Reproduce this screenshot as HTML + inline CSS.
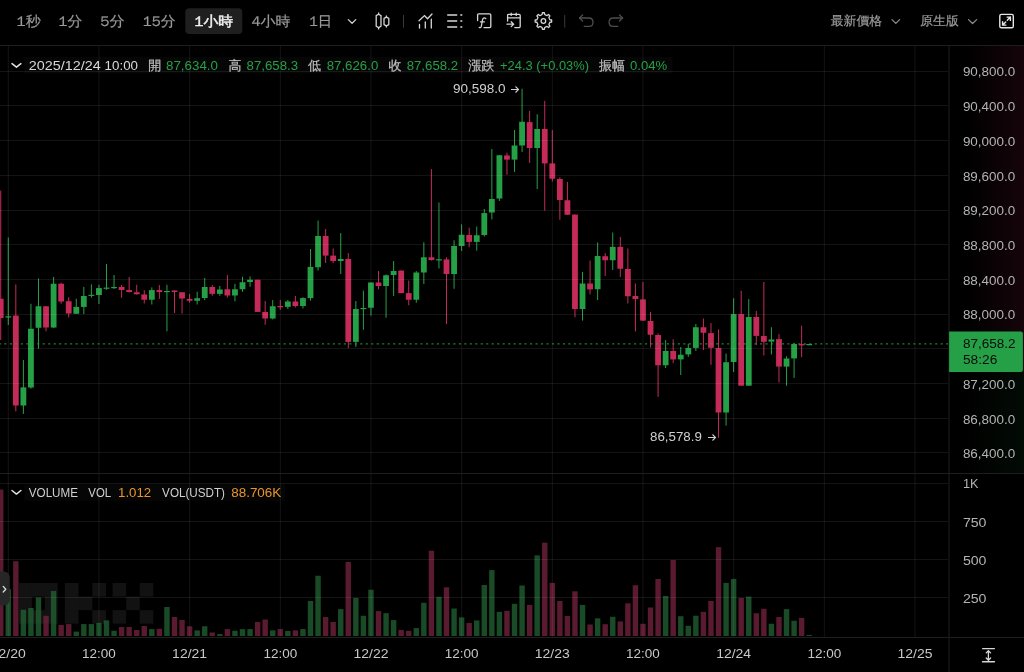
<!DOCTYPE html>
<html><head><meta charset="utf-8">
<style>
html,body{margin:0;padding:0;background:#000;width:1024px;height:672px;overflow:hidden}
svg{display:block;position:absolute;left:0;top:0;will-change:transform}
.t{font-family:"Liberation Sans","WenQuanYi Zen Hei",sans-serif}
.w{font-family:"WenQuanYi Zen Hei","Liberation Sans",sans-serif}
</style></head><body>
<svg width="1024" height="672" viewBox="0 0 1024 672">
<defs>
<linearGradient id="gr" x1="0" y1="0" x2="1" y2="0"><stop offset="0" stop-color="#c42b59" stop-opacity="0"/><stop offset="1" stop-color="#c42b59" stop-opacity="0.11"/></linearGradient>
<linearGradient id="gg" x1="0" y1="0" x2="1" y2="0"><stop offset="0" stop-color="#26a047" stop-opacity="0"/><stop offset="1" stop-color="#26a047" stop-opacity="0.07"/></linearGradient>
</defs>
<rect width="1024" height="672" fill="#000"/>
<g fill="#ffffff" fill-opacity="0.07">
<rect x="19" y="583" width="12.9" height="13.57"/>
<rect x="19" y="596.57" width="12.9" height="13.57"/>
<rect x="19" y="610.14" width="12.9" height="13.57"/>
<rect x="31.9" y="583" width="12.9" height="13.57"/>
<rect x="31.9" y="610.14" width="12.9" height="13.57"/>
<rect x="44.8" y="583" width="12.9" height="13.57"/>
<rect x="44.8" y="596.57" width="12.9" height="13.57"/>
<rect x="44.8" y="610.14" width="12.9" height="13.57"/>
<rect x="64.8" y="583" width="13.75" height="13.57"/>
<rect x="64.8" y="596.57" width="13.75" height="13.57"/>
<rect x="64.8" y="610.14" width="13.75" height="13.57"/>
<rect x="78.55" y="596.57" width="13.75" height="13.57"/>
<rect x="92.3" y="583" width="13.75" height="13.57"/>
<rect x="92.3" y="610.14" width="13.75" height="13.57"/>
<rect x="112.6" y="583" width="13.57" height="13.57"/>
<rect x="112.6" y="610.14" width="13.57" height="13.57"/>
<rect x="126.17" y="596.57" width="13.57" height="13.57"/>
<rect x="139.74" y="583" width="13.57" height="13.57"/>
<rect x="139.74" y="610.14" width="13.57" height="13.57"/>
</g>
<rect x="-1.99" y="489.5" width="5.4" height="146.5" fill="#78233f" fill-opacity="0.75"/>
<rect x="5.56" y="589.1" width="5.4" height="46.9" fill="#236434" fill-opacity="0.75"/>
<rect x="13.12" y="561.25" width="5.4" height="74.75" fill="#78233f" fill-opacity="0.75"/>
<rect x="20.68" y="609.75" width="5.4" height="26.25" fill="#236434" fill-opacity="0.75"/>
<rect x="28.23" y="607.9" width="5.4" height="28.1" fill="#236434" fill-opacity="0.75"/>
<rect x="35.79" y="597.5" width="5.4" height="38.5" fill="#236434" fill-opacity="0.75"/>
<rect x="43.34" y="615.75" width="5.4" height="20.25" fill="#78233f" fill-opacity="0.75"/>
<rect x="50.9" y="591" width="5.4" height="45" fill="#236434" fill-opacity="0.75"/>
<rect x="58.46" y="625" width="5.4" height="11" fill="#78233f" fill-opacity="0.75"/>
<rect x="66.01" y="624.1" width="5.4" height="11.9" fill="#78233f" fill-opacity="0.75"/>
<rect x="73.57" y="631.6" width="5.4" height="4.4" fill="#236434" fill-opacity="0.75"/>
<rect x="81.12" y="624.1" width="5.4" height="11.9" fill="#236434" fill-opacity="0.75"/>
<rect x="88.68" y="624.1" width="5.4" height="11.9" fill="#236434" fill-opacity="0.75"/>
<rect x="96.24" y="622.9" width="5.4" height="13.1" fill="#236434" fill-opacity="0.75"/>
<rect x="103.79" y="620.4" width="5.4" height="15.6" fill="#236434" fill-opacity="0.75"/>
<rect x="111.35" y="630.75" width="5.4" height="5.25" fill="#236434" fill-opacity="0.75"/>
<rect x="118.9" y="627" width="5.4" height="9" fill="#78233f" fill-opacity="0.75"/>
<rect x="126.46" y="627" width="5.4" height="9" fill="#78233f" fill-opacity="0.75"/>
<rect x="134.02" y="630" width="5.4" height="6" fill="#78233f" fill-opacity="0.75"/>
<rect x="141.57" y="626" width="5.4" height="10" fill="#78233f" fill-opacity="0.75"/>
<rect x="149.13" y="629.1" width="5.4" height="6.9" fill="#236434" fill-opacity="0.75"/>
<rect x="156.68" y="628.75" width="5.4" height="7.25" fill="#78233f" fill-opacity="0.75"/>
<rect x="164.24" y="607" width="5.4" height="29" fill="#236434" fill-opacity="0.75"/>
<rect x="171.8" y="617" width="5.4" height="19" fill="#78233f" fill-opacity="0.75"/>
<rect x="179.35" y="620" width="5.4" height="16" fill="#78233f" fill-opacity="0.75"/>
<rect x="186.91" y="626.25" width="5.4" height="9.75" fill="#78233f" fill-opacity="0.75"/>
<rect x="194.46" y="630.4" width="5.4" height="5.6" fill="#236434" fill-opacity="0.75"/>
<rect x="202.02" y="626.25" width="5.4" height="9.75" fill="#236434" fill-opacity="0.75"/>
<rect x="209.58" y="632.5" width="5.4" height="3.5" fill="#78233f" fill-opacity="0.75"/>
<rect x="217.13" y="634.1" width="5.4" height="1.9" fill="#236434" fill-opacity="0.75"/>
<rect x="224.69" y="629.1" width="5.4" height="6.9" fill="#78233f" fill-opacity="0.75"/>
<rect x="232.24" y="630.75" width="5.4" height="5.25" fill="#236434" fill-opacity="0.75"/>
<rect x="239.8" y="629.1" width="5.4" height="6.9" fill="#236434" fill-opacity="0.75"/>
<rect x="247.36" y="629.1" width="5.4" height="6.9" fill="#236434" fill-opacity="0.75"/>
<rect x="254.91" y="622" width="5.4" height="14" fill="#78233f" fill-opacity="0.75"/>
<rect x="262.47" y="619.5" width="5.4" height="16.5" fill="#78233f" fill-opacity="0.75"/>
<rect x="270.02" y="630.4" width="5.4" height="5.6" fill="#236434" fill-opacity="0.75"/>
<rect x="277.58" y="629.1" width="5.4" height="6.9" fill="#78233f" fill-opacity="0.75"/>
<rect x="285.14" y="631" width="5.4" height="5" fill="#236434" fill-opacity="0.75"/>
<rect x="292.69" y="630.4" width="5.4" height="5.6" fill="#78233f" fill-opacity="0.75"/>
<rect x="300.25" y="629.1" width="5.4" height="6.9" fill="#236434" fill-opacity="0.75"/>
<rect x="307.8" y="601" width="5.4" height="35" fill="#236434" fill-opacity="0.75"/>
<rect x="315.36" y="575.75" width="5.4" height="60.25" fill="#236434" fill-opacity="0.75"/>
<rect x="322.92" y="617" width="5.4" height="19" fill="#78233f" fill-opacity="0.75"/>
<rect x="330.47" y="622" width="5.4" height="14" fill="#78233f" fill-opacity="0.75"/>
<rect x="338.03" y="609.1" width="5.4" height="26.9" fill="#236434" fill-opacity="0.75"/>
<rect x="345.58" y="562" width="5.4" height="74" fill="#78233f" fill-opacity="0.75"/>
<rect x="353.14" y="597.9" width="5.4" height="38.1" fill="#236434" fill-opacity="0.75"/>
<rect x="360.7" y="615.75" width="5.4" height="20.25" fill="#236434" fill-opacity="0.75"/>
<rect x="368.25" y="589.7" width="5.4" height="46.3" fill="#236434" fill-opacity="0.75"/>
<rect x="375.81" y="611.1" width="5.4" height="24.9" fill="#78233f" fill-opacity="0.75"/>
<rect x="383.36" y="613.2" width="5.4" height="22.8" fill="#236434" fill-opacity="0.75"/>
<rect x="390.92" y="620.1" width="5.4" height="15.9" fill="#236434" fill-opacity="0.75"/>
<rect x="398.48" y="630" width="5.4" height="6" fill="#78233f" fill-opacity="0.75"/>
<rect x="406.03" y="630.8" width="5.4" height="5.2" fill="#78233f" fill-opacity="0.75"/>
<rect x="413.59" y="628.1" width="5.4" height="7.9" fill="#236434" fill-opacity="0.75"/>
<rect x="421.14" y="602.8" width="5.4" height="33.2" fill="#236434" fill-opacity="0.75"/>
<rect x="428.7" y="550.7" width="5.4" height="85.3" fill="#78233f" fill-opacity="0.75"/>
<rect x="436.26" y="596.8" width="5.4" height="39.2" fill="#236434" fill-opacity="0.75"/>
<rect x="443.81" y="587.3" width="5.4" height="48.7" fill="#78233f" fill-opacity="0.75"/>
<rect x="451.37" y="608.5" width="5.4" height="27.5" fill="#236434" fill-opacity="0.75"/>
<rect x="458.92" y="617.4" width="5.4" height="18.6" fill="#236434" fill-opacity="0.75"/>
<rect x="466.48" y="623" width="5.4" height="13" fill="#78233f" fill-opacity="0.75"/>
<rect x="474.04" y="620.4" width="5.4" height="15.6" fill="#236434" fill-opacity="0.75"/>
<rect x="481.59" y="585" width="5.4" height="51" fill="#236434" fill-opacity="0.75"/>
<rect x="489.15" y="570.1" width="5.4" height="65.9" fill="#236434" fill-opacity="0.75"/>
<rect x="496.7" y="611.85" width="5.4" height="24.15" fill="#236434" fill-opacity="0.75"/>
<rect x="504.26" y="610.8" width="5.4" height="25.2" fill="#78233f" fill-opacity="0.75"/>
<rect x="511.82" y="603.8" width="5.4" height="32.2" fill="#236434" fill-opacity="0.75"/>
<rect x="519.37" y="585.5" width="5.4" height="50.5" fill="#236434" fill-opacity="0.75"/>
<rect x="526.93" y="604.9" width="5.4" height="31.1" fill="#78233f" fill-opacity="0.75"/>
<rect x="534.48" y="555.35" width="5.4" height="80.65" fill="#236434" fill-opacity="0.75"/>
<rect x="542.04" y="542.65" width="5.4" height="93.35" fill="#78233f" fill-opacity="0.75"/>
<rect x="549.6" y="582.9" width="5.4" height="53.1" fill="#78233f" fill-opacity="0.75"/>
<rect x="557.15" y="601" width="5.4" height="35" fill="#78233f" fill-opacity="0.75"/>
<rect x="564.71" y="616" width="5.4" height="20" fill="#78233f" fill-opacity="0.75"/>
<rect x="572.26" y="591.3" width="5.4" height="44.7" fill="#78233f" fill-opacity="0.75"/>
<rect x="579.82" y="604.9" width="5.4" height="31.1" fill="#236434" fill-opacity="0.75"/>
<rect x="587.38" y="624.5" width="5.4" height="11.5" fill="#78233f" fill-opacity="0.75"/>
<rect x="594.93" y="618.35" width="5.4" height="17.65" fill="#236434" fill-opacity="0.75"/>
<rect x="602.49" y="624.2" width="5.4" height="11.8" fill="#78233f" fill-opacity="0.75"/>
<rect x="610.04" y="616.8" width="5.4" height="19.2" fill="#236434" fill-opacity="0.75"/>
<rect x="617.6" y="621.45" width="5.4" height="14.55" fill="#78233f" fill-opacity="0.75"/>
<rect x="625.16" y="603.3" width="5.4" height="32.7" fill="#78233f" fill-opacity="0.75"/>
<rect x="632.71" y="585.2" width="5.4" height="50.8" fill="#78233f" fill-opacity="0.75"/>
<rect x="640.27" y="623.8" width="5.4" height="12.2" fill="#78233f" fill-opacity="0.75"/>
<rect x="647.82" y="607.5" width="5.4" height="28.5" fill="#78233f" fill-opacity="0.75"/>
<rect x="655.38" y="579" width="5.4" height="57" fill="#78233f" fill-opacity="0.75"/>
<rect x="662.94" y="596" width="5.4" height="40" fill="#236434" fill-opacity="0.75"/>
<rect x="670.49" y="560" width="5.4" height="76" fill="#78233f" fill-opacity="0.75"/>
<rect x="678.05" y="616.2" width="5.4" height="19.8" fill="#236434" fill-opacity="0.75"/>
<rect x="685.6" y="625.8" width="5.4" height="10.2" fill="#236434" fill-opacity="0.75"/>
<rect x="693.16" y="615.7" width="5.4" height="20.3" fill="#236434" fill-opacity="0.75"/>
<rect x="700.72" y="611.85" width="5.4" height="24.15" fill="#78233f" fill-opacity="0.75"/>
<rect x="708.27" y="601" width="5.4" height="35" fill="#78233f" fill-opacity="0.75"/>
<rect x="715.83" y="547.15" width="5.4" height="88.85" fill="#78233f" fill-opacity="0.75"/>
<rect x="723.38" y="582.9" width="5.4" height="53.1" fill="#236434" fill-opacity="0.75"/>
<rect x="730.94" y="578.9" width="5.4" height="57.1" fill="#236434" fill-opacity="0.75"/>
<rect x="738.5" y="597.9" width="5.4" height="38.1" fill="#78233f" fill-opacity="0.75"/>
<rect x="746.05" y="596.6" width="5.4" height="39.4" fill="#236434" fill-opacity="0.75"/>
<rect x="753.61" y="613.25" width="5.4" height="22.75" fill="#78233f" fill-opacity="0.75"/>
<rect x="761.16" y="608.75" width="5.4" height="27.25" fill="#78233f" fill-opacity="0.75"/>
<rect x="768.72" y="623.75" width="5.4" height="12.25" fill="#236434" fill-opacity="0.75"/>
<rect x="776.28" y="617" width="5.4" height="19" fill="#78233f" fill-opacity="0.75"/>
<rect x="783.83" y="609.1" width="5.4" height="26.9" fill="#236434" fill-opacity="0.75"/>
<rect x="791.39" y="620.75" width="5.4" height="15.25" fill="#236434" fill-opacity="0.75"/>
<rect x="798.94" y="617.9" width="5.4" height="18.1" fill="#78233f" fill-opacity="0.75"/>
<rect x="806.5" y="635" width="5.4" height="1" fill="#236434" fill-opacity="0.75"/>
<rect x="0.21" y="190.6" width="1" height="149.4" fill="#c42b59"/>
<rect x="-2.19" y="298.75" width="5.8" height="19.25" fill="#c42b59"/>
<rect x="7.76" y="237.5" width="1" height="87.5" fill="#26a047"/>
<rect x="5.36" y="316.3" width="5.8" height="1.2" fill="#26a047"/>
<rect x="15.32" y="284.4" width="1" height="127" fill="#c42b59"/>
<rect x="12.92" y="315.6" width="5.8" height="89.9" fill="#c42b59"/>
<rect x="22.88" y="360" width="1" height="53.9" fill="#26a047"/>
<rect x="20.48" y="387.4" width="5.8" height="18.1" fill="#26a047"/>
<rect x="30.43" y="303.75" width="1" height="85" fill="#26a047"/>
<rect x="28.03" y="328.75" width="5.8" height="58.75" fill="#26a047"/>
<rect x="37.99" y="278.5" width="1" height="70.25" fill="#26a047"/>
<rect x="35.59" y="306.25" width="5.8" height="21.5" fill="#26a047"/>
<rect x="45.54" y="306.25" width="1" height="25" fill="#c42b59"/>
<rect x="43.14" y="306.25" width="5.8" height="21.25" fill="#c42b59"/>
<rect x="53.1" y="276.9" width="1" height="51.1" fill="#26a047"/>
<rect x="50.7" y="283.75" width="5.8" height="43.75" fill="#26a047"/>
<rect x="60.66" y="282.75" width="1" height="21" fill="#c42b59"/>
<rect x="58.26" y="283.75" width="5.8" height="17.75" fill="#c42b59"/>
<rect x="68.21" y="297.25" width="1" height="20.25" fill="#c42b59"/>
<rect x="65.81" y="301.25" width="5.8" height="12.25" fill="#c42b59"/>
<rect x="75.77" y="298.75" width="1" height="15.25" fill="#26a047"/>
<rect x="73.37" y="306.9" width="5.8" height="6.85" fill="#26a047"/>
<rect x="83.32" y="286.9" width="1" height="27.1" fill="#26a047"/>
<rect x="80.92" y="296" width="5.8" height="10.9" fill="#26a047"/>
<rect x="90.88" y="284.4" width="1" height="13.35" fill="#26a047"/>
<rect x="88.48" y="294.75" width="5.8" height="1.2" fill="#26a047"/>
<rect x="98.44" y="284.75" width="1" height="19.25" fill="#26a047"/>
<rect x="96.04" y="288.1" width="5.8" height="6.9" fill="#26a047"/>
<rect x="105.99" y="264" width="1" height="25.75" fill="#26a047"/>
<rect x="103.59" y="287.6" width="5.8" height="1.2" fill="#26a047"/>
<rect x="113.55" y="275" width="1" height="14" fill="#26a047"/>
<rect x="111.15" y="287" width="5.8" height="1.2" fill="#26a047"/>
<rect x="121.1" y="285" width="1" height="12.75" fill="#c42b59"/>
<rect x="118.7" y="286.9" width="5.8" height="3.1" fill="#c42b59"/>
<rect x="128.66" y="277" width="1" height="15.5" fill="#c42b59"/>
<rect x="126.26" y="290.1" width="5.8" height="1.9" fill="#c42b59"/>
<rect x="136.22" y="284.75" width="1" height="9.75" fill="#c42b59"/>
<rect x="133.82" y="292.25" width="5.8" height="2" fill="#c42b59"/>
<rect x="143.77" y="290.1" width="1" height="13.4" fill="#c42b59"/>
<rect x="141.37" y="294.5" width="5.8" height="5.25" fill="#c42b59"/>
<rect x="151.33" y="287.4" width="1" height="17.1" fill="#26a047"/>
<rect x="148.93" y="290.1" width="5.8" height="9.65" fill="#26a047"/>
<rect x="158.88" y="285.1" width="1" height="13.8" fill="#c42b59"/>
<rect x="156.48" y="290.1" width="5.8" height="1.9" fill="#c42b59"/>
<rect x="166.44" y="284.75" width="1" height="46.65" fill="#26a047"/>
<rect x="164.04" y="291" width="5.8" height="1.2" fill="#26a047"/>
<rect x="174" y="290.5" width="1" height="22.5" fill="#c42b59"/>
<rect x="171.6" y="290.5" width="5.8" height="1.5" fill="#c42b59"/>
<rect x="181.55" y="292.25" width="1" height="21.25" fill="#c42b59"/>
<rect x="179.15" y="292.25" width="5.8" height="6.25" fill="#c42b59"/>
<rect x="189.11" y="293.9" width="1" height="8.7" fill="#c42b59"/>
<rect x="186.71" y="298.9" width="5.8" height="1.85" fill="#c42b59"/>
<rect x="196.66" y="291.75" width="1" height="12.75" fill="#26a047"/>
<rect x="194.26" y="298.25" width="5.8" height="2.5" fill="#26a047"/>
<rect x="204.22" y="278" width="1" height="22.1" fill="#26a047"/>
<rect x="201.82" y="287" width="5.8" height="11" fill="#26a047"/>
<rect x="211.78" y="285.1" width="1" height="10.65" fill="#c42b59"/>
<rect x="209.38" y="287" width="5.8" height="6.9" fill="#c42b59"/>
<rect x="219.33" y="286" width="1" height="9.75" fill="#26a047"/>
<rect x="216.93" y="289.5" width="5.8" height="4.4" fill="#26a047"/>
<rect x="226.89" y="275.1" width="1" height="22.5" fill="#c42b59"/>
<rect x="224.49" y="289.25" width="5.8" height="6.25" fill="#c42b59"/>
<rect x="234.44" y="283.9" width="1" height="17.5" fill="#26a047"/>
<rect x="232.04" y="289.25" width="5.8" height="6.25" fill="#26a047"/>
<rect x="242" y="276.75" width="1" height="15" fill="#26a047"/>
<rect x="239.6" y="282.25" width="5.8" height="7" fill="#26a047"/>
<rect x="249.56" y="276.4" width="1" height="10.35" fill="#26a047"/>
<rect x="247.16" y="279.75" width="5.8" height="2.25" fill="#26a047"/>
<rect x="257.11" y="279.75" width="1" height="32.15" fill="#c42b59"/>
<rect x="254.71" y="279.75" width="5.8" height="32.15" fill="#c42b59"/>
<rect x="264.67" y="301" width="1" height="23.75" fill="#c42b59"/>
<rect x="262.27" y="311.9" width="5.8" height="6.6" fill="#c42b59"/>
<rect x="272.22" y="300" width="1" height="19.4" fill="#26a047"/>
<rect x="269.82" y="306.25" width="5.8" height="12.25" fill="#26a047"/>
<rect x="279.78" y="300" width="1" height="9.75" fill="#c42b59"/>
<rect x="277.38" y="306" width="5.8" height="1.25" fill="#c42b59"/>
<rect x="287.34" y="300" width="1" height="9" fill="#26a047"/>
<rect x="284.94" y="301.5" width="5.8" height="5.4" fill="#26a047"/>
<rect x="294.89" y="296" width="1" height="11.5" fill="#c42b59"/>
<rect x="292.49" y="301.5" width="5.8" height="4.5" fill="#c42b59"/>
<rect x="302.45" y="297.25" width="1" height="11.25" fill="#26a047"/>
<rect x="300.05" y="298.1" width="5.8" height="7.9" fill="#26a047"/>
<rect x="310" y="249" width="1" height="51.6" fill="#26a047"/>
<rect x="307.6" y="266.9" width="5.8" height="31.2" fill="#26a047"/>
<rect x="317.56" y="220.6" width="1" height="50" fill="#26a047"/>
<rect x="315.16" y="236" width="5.8" height="31.25" fill="#26a047"/>
<rect x="325.12" y="229" width="1" height="34.1" fill="#c42b59"/>
<rect x="322.72" y="236" width="5.8" height="19.6" fill="#c42b59"/>
<rect x="332.67" y="248.5" width="1" height="14.6" fill="#c42b59"/>
<rect x="330.27" y="255.6" width="5.8" height="5.4" fill="#c42b59"/>
<rect x="340.23" y="233.1" width="1" height="40.9" fill="#26a047"/>
<rect x="337.83" y="259" width="5.8" height="2" fill="#26a047"/>
<rect x="347.78" y="253.1" width="1" height="95" fill="#c42b59"/>
<rect x="345.38" y="259" width="5.8" height="82.9" fill="#c42b59"/>
<rect x="355.34" y="301" width="1" height="45.9" fill="#26a047"/>
<rect x="352.94" y="309" width="5.8" height="32.9" fill="#26a047"/>
<rect x="362.9" y="290.6" width="1" height="39.15" fill="#26a047"/>
<rect x="360.5" y="308" width="5.8" height="1.2" fill="#26a047"/>
<rect x="370.45" y="282.5" width="1" height="33.1" fill="#26a047"/>
<rect x="368.05" y="282.5" width="5.8" height="25.25" fill="#26a047"/>
<rect x="378.01" y="271" width="1" height="18.4" fill="#c42b59"/>
<rect x="375.61" y="282.5" width="5.8" height="3.5" fill="#c42b59"/>
<rect x="385.56" y="274.4" width="1" height="43.35" fill="#26a047"/>
<rect x="383.16" y="275.25" width="5.8" height="10.75" fill="#26a047"/>
<rect x="393.12" y="261" width="1" height="35" fill="#26a047"/>
<rect x="390.72" y="271" width="5.8" height="4" fill="#26a047"/>
<rect x="400.68" y="270.25" width="1" height="22.85" fill="#c42b59"/>
<rect x="398.28" y="270.6" width="5.8" height="22.5" fill="#c42b59"/>
<rect x="408.23" y="280.6" width="1" height="24.65" fill="#c42b59"/>
<rect x="405.83" y="293.1" width="5.8" height="6.65" fill="#c42b59"/>
<rect x="415.79" y="271" width="1" height="31.75" fill="#26a047"/>
<rect x="413.39" y="272.5" width="5.8" height="27.25" fill="#26a047"/>
<rect x="423.34" y="242.25" width="1" height="41.75" fill="#26a047"/>
<rect x="420.94" y="257.25" width="5.8" height="15.25" fill="#26a047"/>
<rect x="430.9" y="169" width="1" height="91.6" fill="#c42b59"/>
<rect x="428.5" y="257.25" width="5.8" height="2.75" fill="#c42b59"/>
<rect x="438.46" y="202.5" width="1" height="66" fill="#26a047"/>
<rect x="436.06" y="259.25" width="5.8" height="1.2" fill="#26a047"/>
<rect x="446.01" y="257.25" width="1" height="66.75" fill="#c42b59"/>
<rect x="443.61" y="259.4" width="5.8" height="14.6" fill="#c42b59"/>
<rect x="453.57" y="240.25" width="1" height="48.5" fill="#26a047"/>
<rect x="451.17" y="246" width="5.8" height="28" fill="#26a047"/>
<rect x="461.12" y="224.4" width="1" height="26.6" fill="#26a047"/>
<rect x="458.72" y="234.75" width="5.8" height="11.25" fill="#26a047"/>
<rect x="468.68" y="227.75" width="1" height="19.5" fill="#c42b59"/>
<rect x="466.28" y="235" width="5.8" height="6.9" fill="#c42b59"/>
<rect x="476.24" y="226.5" width="1" height="24.1" fill="#26a047"/>
<rect x="473.84" y="235.25" width="5.8" height="6.65" fill="#26a047"/>
<rect x="483.79" y="209" width="1" height="27.5" fill="#26a047"/>
<rect x="481.39" y="213.1" width="5.8" height="21.9" fill="#26a047"/>
<rect x="491.35" y="149" width="1" height="70.4" fill="#26a047"/>
<rect x="488.95" y="199" width="5.8" height="13.5" fill="#26a047"/>
<rect x="498.9" y="155.25" width="1" height="45.75" fill="#26a047"/>
<rect x="496.5" y="155.25" width="5.8" height="43.25" fill="#26a047"/>
<rect x="506.46" y="152.75" width="1" height="22" fill="#c42b59"/>
<rect x="504.06" y="155.5" width="5.8" height="4.1" fill="#c42b59"/>
<rect x="514.02" y="130" width="1" height="41.9" fill="#26a047"/>
<rect x="511.62" y="145.5" width="5.8" height="14.1" fill="#26a047"/>
<rect x="521.57" y="88.75" width="1" height="63.35" fill="#26a047"/>
<rect x="519.17" y="121.75" width="5.8" height="23.75" fill="#26a047"/>
<rect x="529.13" y="110.9" width="1" height="52.1" fill="#c42b59"/>
<rect x="526.73" y="122.1" width="5.8" height="25.9" fill="#c42b59"/>
<rect x="536.68" y="114.25" width="1" height="74.75" fill="#26a047"/>
<rect x="534.28" y="129" width="5.8" height="19" fill="#26a047"/>
<rect x="544.24" y="100.9" width="1" height="109.7" fill="#c42b59"/>
<rect x="541.84" y="129" width="5.8" height="34.4" fill="#c42b59"/>
<rect x="551.8" y="130" width="1" height="51.5" fill="#c42b59"/>
<rect x="549.4" y="163.4" width="5.8" height="15.35" fill="#c42b59"/>
<rect x="559.35" y="177.25" width="1" height="42.5" fill="#c42b59"/>
<rect x="556.95" y="179" width="5.8" height="21" fill="#c42b59"/>
<rect x="566.91" y="181.9" width="1" height="33.1" fill="#c42b59"/>
<rect x="564.51" y="200.25" width="5.8" height="14.5" fill="#c42b59"/>
<rect x="574.46" y="214.4" width="1" height="102.85" fill="#c42b59"/>
<rect x="572.06" y="214.6" width="5.8" height="94.4" fill="#c42b59"/>
<rect x="582.02" y="271.9" width="1" height="48.7" fill="#26a047"/>
<rect x="579.62" y="283.5" width="5.8" height="25.5" fill="#26a047"/>
<rect x="589.58" y="260.6" width="1" height="33.8" fill="#c42b59"/>
<rect x="587.18" y="283.5" width="5.8" height="5.9" fill="#c42b59"/>
<rect x="597.13" y="242.5" width="1" height="57.5" fill="#26a047"/>
<rect x="594.73" y="256" width="5.8" height="33.2" fill="#26a047"/>
<rect x="604.69" y="253.1" width="1" height="22.9" fill="#c42b59"/>
<rect x="602.29" y="256.25" width="5.8" height="4" fill="#c42b59"/>
<rect x="612.24" y="232.5" width="1" height="37.5" fill="#26a047"/>
<rect x="609.84" y="246.9" width="5.8" height="13.35" fill="#26a047"/>
<rect x="619.8" y="236.9" width="1" height="40" fill="#c42b59"/>
<rect x="617.4" y="246.9" width="5.8" height="21.85" fill="#c42b59"/>
<rect x="627.36" y="248.5" width="1" height="55" fill="#c42b59"/>
<rect x="624.96" y="269" width="5.8" height="27.25" fill="#c42b59"/>
<rect x="634.91" y="283.5" width="1" height="48" fill="#c42b59"/>
<rect x="632.51" y="296" width="5.8" height="3" fill="#c42b59"/>
<rect x="642.47" y="281.9" width="1" height="39.1" fill="#c42b59"/>
<rect x="640.07" y="299.4" width="5.8" height="21.2" fill="#c42b59"/>
<rect x="650.02" y="311.9" width="1" height="35.5" fill="#c42b59"/>
<rect x="647.62" y="321" width="5.8" height="13.75" fill="#c42b59"/>
<rect x="657.58" y="333.5" width="1" height="63.4" fill="#c42b59"/>
<rect x="655.18" y="335" width="5.8" height="30.25" fill="#c42b59"/>
<rect x="665.14" y="340" width="1" height="28" fill="#26a047"/>
<rect x="662.74" y="351" width="5.8" height="14.25" fill="#26a047"/>
<rect x="672.69" y="339.2" width="1" height="23.9" fill="#c42b59"/>
<rect x="670.29" y="351" width="5.8" height="8.4" fill="#c42b59"/>
<rect x="680.25" y="347" width="1" height="28" fill="#26a047"/>
<rect x="677.85" y="354.75" width="5.8" height="4.65" fill="#26a047"/>
<rect x="687.8" y="343.75" width="1" height="13.15" fill="#26a047"/>
<rect x="685.4" y="348.1" width="5.8" height="6.3" fill="#26a047"/>
<rect x="695.36" y="324" width="1" height="27" fill="#26a047"/>
<rect x="692.96" y="327.25" width="5.8" height="20.65" fill="#26a047"/>
<rect x="702.92" y="318.5" width="1" height="31.5" fill="#c42b59"/>
<rect x="700.52" y="327.25" width="5.8" height="5.5" fill="#c42b59"/>
<rect x="710.47" y="323.1" width="1" height="41.8" fill="#c42b59"/>
<rect x="708.07" y="333.1" width="5.8" height="14.65" fill="#c42b59"/>
<rect x="718.03" y="329.4" width="1" height="108.35" fill="#c42b59"/>
<rect x="715.63" y="348.1" width="5.8" height="64.4" fill="#c42b59"/>
<rect x="725.58" y="353.5" width="1" height="72.1" fill="#26a047"/>
<rect x="723.18" y="362.25" width="5.8" height="50.25" fill="#26a047"/>
<rect x="733.14" y="298.25" width="1" height="73.75" fill="#26a047"/>
<rect x="730.74" y="314.1" width="5.8" height="47.9" fill="#26a047"/>
<rect x="740.7" y="290.75" width="1" height="94.95" fill="#c42b59"/>
<rect x="738.3" y="314.1" width="5.8" height="71.6" fill="#c42b59"/>
<rect x="748.25" y="299.1" width="1" height="86.6" fill="#26a047"/>
<rect x="745.85" y="317" width="5.8" height="68.7" fill="#26a047"/>
<rect x="755.81" y="311" width="1" height="34.1" fill="#c42b59"/>
<rect x="753.41" y="317" width="5.8" height="18.9" fill="#c42b59"/>
<rect x="763.36" y="282" width="1" height="73.5" fill="#c42b59"/>
<rect x="760.96" y="336" width="5.8" height="5.8" fill="#c42b59"/>
<rect x="770.92" y="327.25" width="1" height="27.25" fill="#26a047"/>
<rect x="768.52" y="339.5" width="5.8" height="2.1" fill="#26a047"/>
<rect x="778.48" y="334.1" width="1" height="48.4" fill="#c42b59"/>
<rect x="776.08" y="339.1" width="5.8" height="27.5" fill="#c42b59"/>
<rect x="786.03" y="356.25" width="1" height="29.5" fill="#26a047"/>
<rect x="783.63" y="358.5" width="5.8" height="8.1" fill="#26a047"/>
<rect x="793.59" y="342.9" width="1" height="35" fill="#26a047"/>
<rect x="791.19" y="344" width="5.8" height="14.4" fill="#26a047"/>
<rect x="801.14" y="325.75" width="1" height="31.35" fill="#c42b59"/>
<rect x="798.74" y="344.1" width="5.8" height="1.3" fill="#c42b59"/>
<rect x="808.7" y="344" width="1" height="1.2" fill="#26a047"/>
<rect x="806.3" y="344" width="5.8" height="1.2" fill="#26a047"/>
<rect x="7.8" y="46" width="1" height="427" fill="#ffffff" fill-opacity="0.078"/>
<rect x="7.8" y="474" width="1" height="163" fill="#ffffff" fill-opacity="0.078"/>
<rect x="98.47" y="46" width="1" height="427" fill="#ffffff" fill-opacity="0.078"/>
<rect x="98.47" y="474" width="1" height="163" fill="#ffffff" fill-opacity="0.078"/>
<rect x="189.14" y="46" width="1" height="427" fill="#ffffff" fill-opacity="0.078"/>
<rect x="189.14" y="474" width="1" height="163" fill="#ffffff" fill-opacity="0.078"/>
<rect x="279.81" y="46" width="1" height="427" fill="#ffffff" fill-opacity="0.078"/>
<rect x="279.81" y="474" width="1" height="163" fill="#ffffff" fill-opacity="0.078"/>
<rect x="370.48" y="46" width="1" height="427" fill="#ffffff" fill-opacity="0.078"/>
<rect x="370.48" y="474" width="1" height="163" fill="#ffffff" fill-opacity="0.078"/>
<rect x="461.15" y="46" width="1" height="427" fill="#ffffff" fill-opacity="0.078"/>
<rect x="461.15" y="474" width="1" height="163" fill="#ffffff" fill-opacity="0.078"/>
<rect x="551.82" y="46" width="1" height="427" fill="#ffffff" fill-opacity="0.078"/>
<rect x="551.82" y="474" width="1" height="163" fill="#ffffff" fill-opacity="0.078"/>
<rect x="642.49" y="46" width="1" height="427" fill="#ffffff" fill-opacity="0.078"/>
<rect x="642.49" y="474" width="1" height="163" fill="#ffffff" fill-opacity="0.078"/>
<rect x="733.16" y="46" width="1" height="427" fill="#ffffff" fill-opacity="0.078"/>
<rect x="733.16" y="474" width="1" height="163" fill="#ffffff" fill-opacity="0.078"/>
<rect x="823.83" y="46" width="1" height="427" fill="#ffffff" fill-opacity="0.078"/>
<rect x="823.83" y="474" width="1" height="163" fill="#ffffff" fill-opacity="0.078"/>
<rect x="914.5" y="46" width="1" height="427" fill="#ffffff" fill-opacity="0.078"/>
<rect x="914.5" y="474" width="1" height="163" fill="#ffffff" fill-opacity="0.078"/>
<rect x="0" y="71" width="948" height="1" fill="#ffffff" fill-opacity="0.078"/>
<rect x="0" y="105" width="948" height="1" fill="#ffffff" fill-opacity="0.078"/>
<rect x="0" y="140" width="948" height="1" fill="#ffffff" fill-opacity="0.078"/>
<rect x="0" y="175" width="948" height="1" fill="#ffffff" fill-opacity="0.078"/>
<rect x="0" y="210" width="948" height="1" fill="#ffffff" fill-opacity="0.078"/>
<rect x="0" y="244" width="948" height="1" fill="#ffffff" fill-opacity="0.078"/>
<rect x="0" y="279" width="948" height="1" fill="#ffffff" fill-opacity="0.078"/>
<rect x="0" y="314" width="948" height="1" fill="#ffffff" fill-opacity="0.078"/>
<rect x="0" y="348" width="948" height="1" fill="#ffffff" fill-opacity="0.078"/>
<rect x="0" y="383" width="948" height="1" fill="#ffffff" fill-opacity="0.078"/>
<rect x="0" y="418" width="948" height="1" fill="#ffffff" fill-opacity="0.078"/>
<rect x="0" y="452" width="948" height="1" fill="#ffffff" fill-opacity="0.078"/>
<rect x="0" y="483" width="948" height="1" fill="#ffffff" fill-opacity="0.078"/>
<rect x="0" y="521" width="948" height="1" fill="#ffffff" fill-opacity="0.078"/>
<rect x="0" y="559" width="948" height="1" fill="#ffffff" fill-opacity="0.078"/>
<rect x="0" y="597" width="948" height="1" fill="#ffffff" fill-opacity="0.078"/>
<line x1="0" y1="343.9" x2="948" y2="343.9" stroke="#26a047" stroke-width="1.3" stroke-opacity="0.8" stroke-dasharray="2.1 3.3754" stroke-dashoffset="1.1"/>
<!-- separators -->
<rect x="0" y="45" width="1024" height="1" fill="#1e1e1e"/>
<rect x="948.5" y="46" width="1" height="626" fill="#1e1e1e"/>
<rect x="0" y="473" width="1024" height="1" fill="#1e1e1e"/>
<rect x="0" y="637" width="1024" height="1" fill="#1e1e1e"/>
<!-- price axis gradient -->
<rect x="966" y="46" width="58" height="298" fill="url(#gr)"/>
<rect x="966" y="344" width="58" height="129" fill="url(#gg)"/>
<text x="16.6" y="26.3" font-size="14" fill="#9a9a9a" class="w" textLength="24.2" lengthAdjust="spacingAndGlyphs" stroke="#9a9a9a" stroke-width="0.2">1秒</text>
<text x="58.6" y="26.3" font-size="14" fill="#9a9a9a" class="w" textLength="23.9" lengthAdjust="spacingAndGlyphs" stroke="#9a9a9a" stroke-width="0.2">1分</text>
<text x="100.3" y="26.3" font-size="14" fill="#9a9a9a" class="w" textLength="24.4" lengthAdjust="spacingAndGlyphs" stroke="#9a9a9a" stroke-width="0.2">5分</text>
<text x="142.8" y="26.3" font-size="14" fill="#9a9a9a" class="w" textLength="32.9" lengthAdjust="spacingAndGlyphs" stroke="#9a9a9a" stroke-width="0.2">15分</text>
<rect x="185.3" y="8.2" width="57" height="25.8" rx="4" fill="#1f1f1f"/>
<text x="194.5" y="26.3" font-size="14" fill="#f2f2f2" class="w" textLength="38.5" lengthAdjust="spacingAndGlyphs" stroke="#f2f2f2" stroke-width="0.45">1小時</text>
<text x="251.5" y="26.3" font-size="14" fill="#9a9a9a" class="w" textLength="38.9" lengthAdjust="spacingAndGlyphs" stroke="#9a9a9a" stroke-width="0.2">4小時</text>
<text x="309.2" y="26.3" font-size="14" fill="#9a9a9a" class="w" textLength="22.9" lengthAdjust="spacingAndGlyphs" stroke="#9a9a9a" stroke-width="0.2">1日</text>
<text x="830.7" y="25" font-size="12.6" fill="#9a9a9a" class="w" textLength="51.4" lengthAdjust="spacingAndGlyphs" stroke="#9a9a9a" stroke-width="0.2">最新價格</text>
<text x="920.2" y="25" font-size="12.6" fill="#9a9a9a" class="w" textLength="38.8" lengthAdjust="spacingAndGlyphs" stroke="#9a9a9a" stroke-width="0.2">原生版</text>
<rect x="24.5" y="56.9" width="648" height="16.7" fill="#ffffff" fill-opacity="0.025"/>
<text x="28.75" y="70.2" font-size="13.5" fill="#d9d9d9" class="t" textLength="71.9" lengthAdjust="spacingAndGlyphs">2025/12/24</text>
<text x="104.6" y="70.2" font-size="13.5" fill="#d9d9d9" class="t" textLength="33.4" lengthAdjust="spacingAndGlyphs">10:00</text>
<text x="148.3" y="70.2" font-size="13" fill="#bdbdbd" class="w" stroke="#bdbdbd" stroke-width="0.25">開</text>
<text x="166" y="70.2" font-size="13.5" fill="#26a047" class="t" textLength="52" lengthAdjust="spacingAndGlyphs">87,634.0</text>
<text x="228.6" y="70.2" font-size="13" fill="#bdbdbd" class="w" stroke="#bdbdbd" stroke-width="0.25">高</text>
<text x="246.6" y="70.2" font-size="13.5" fill="#26a047" class="t" textLength="51.5" lengthAdjust="spacingAndGlyphs">87,658.3</text>
<text x="308" y="70.2" font-size="13" fill="#bdbdbd" class="w" stroke="#bdbdbd" stroke-width="0.25">低</text>
<text x="326.7" y="70.2" font-size="13.5" fill="#26a047" class="t" textLength="51.6" lengthAdjust="spacingAndGlyphs">87,626.0</text>
<text x="388.4" y="70.2" font-size="13" fill="#bdbdbd" class="w" stroke="#bdbdbd" stroke-width="0.25">收</text>
<text x="406.7" y="70.2" font-size="13.5" fill="#26a047" class="t" textLength="51.4" lengthAdjust="spacingAndGlyphs">87,658.2</text>
<text x="468.3" y="70.2" font-size="13" fill="#bdbdbd" class="w" stroke="#bdbdbd" stroke-width="0.25">漲跌</text>
<text x="500.1" y="70.2" font-size="13.5" fill="#26a047" class="t" textLength="88.9" lengthAdjust="spacingAndGlyphs">+24.3 (+0.03%)</text>
<text x="598.9" y="70.2" font-size="13" fill="#bdbdbd" class="w" stroke="#bdbdbd" stroke-width="0.25">振幅</text>
<text x="630" y="70.2" font-size="13.5" fill="#26a047" class="t" textLength="37.2" lengthAdjust="spacingAndGlyphs">0.04%</text>
<rect x="24.5" y="484.3" width="260.5" height="16.5" fill="#ffffff" fill-opacity="0.025"/>
<text x="28.8" y="496.8" font-size="12" fill="#d0d0d0" class="t" textLength="49.2" lengthAdjust="spacingAndGlyphs">VOLUME</text>
<text x="88.3" y="496.8" font-size="12" fill="#d0d0d0" class="t" textLength="22.8" lengthAdjust="spacingAndGlyphs">VOL</text>
<text x="118" y="496.8" font-size="12.5" fill="#e8952b" class="t" textLength="33.2" lengthAdjust="spacingAndGlyphs">1.012</text>
<text x="162.1" y="496.8" font-size="12" fill="#d0d0d0" class="t" textLength="62.9" lengthAdjust="spacingAndGlyphs">VOL(USDT)</text>
<text x="231.25" y="496.8" font-size="12.5" fill="#e8952b" class="t" textLength="50" lengthAdjust="spacingAndGlyphs">88.706K</text>
<text x="962.9" y="76.25" font-size="13.2" fill="#b3b3b3" class="t" textLength="52.3" lengthAdjust="spacingAndGlyphs">90,800.0</text>
<text x="962.9" y="111.1" font-size="13.2" fill="#b3b3b3" class="t" textLength="52.3" lengthAdjust="spacingAndGlyphs">90,400.0</text>
<text x="962.9" y="145.9" font-size="13.2" fill="#b3b3b3" class="t" textLength="52.3" lengthAdjust="spacingAndGlyphs">90,000.0</text>
<text x="962.9" y="181" font-size="13.2" fill="#b3b3b3" class="t" textLength="52.3" lengthAdjust="spacingAndGlyphs">89,600.0</text>
<text x="962.9" y="215.1" font-size="13.2" fill="#b3b3b3" class="t" textLength="52.3" lengthAdjust="spacingAndGlyphs">89,200.0</text>
<text x="962.9" y="249.7" font-size="13.2" fill="#b3b3b3" class="t" textLength="52.3" lengthAdjust="spacingAndGlyphs">88,800.0</text>
<text x="962.9" y="284.9" font-size="13.2" fill="#b3b3b3" class="t" textLength="52.3" lengthAdjust="spacingAndGlyphs">88,400.0</text>
<text x="962.9" y="319.1" font-size="13.2" fill="#b3b3b3" class="t" textLength="52.3" lengthAdjust="spacingAndGlyphs">88,000.0</text>
<text x="962.9" y="388.7" font-size="13.2" fill="#b3b3b3" class="t" textLength="52.3" lengthAdjust="spacingAndGlyphs">87,200.0</text>
<text x="962.9" y="423.7" font-size="13.2" fill="#b3b3b3" class="t" textLength="52.3" lengthAdjust="spacingAndGlyphs">86,800.0</text>
<text x="962.9" y="458.1" font-size="13.2" fill="#b3b3b3" class="t" textLength="52.3" lengthAdjust="spacingAndGlyphs">86,400.0</text>
<text x="962.9" y="488" font-size="13.2" fill="#b3b3b3" class="t" textLength="15.6" lengthAdjust="spacingAndGlyphs">1K</text>
<text x="962.9" y="526.6" font-size="13.2" fill="#b3b3b3" class="t" textLength="23.6" lengthAdjust="spacingAndGlyphs">750</text>
<text x="962.9" y="564.9" font-size="13.2" fill="#b3b3b3" class="t" textLength="23.6" lengthAdjust="spacingAndGlyphs">500</text>
<text x="962.9" y="602.9" font-size="13.2" fill="#b3b3b3" class="t" textLength="23.6" lengthAdjust="spacingAndGlyphs">250</text>
<path d="M949.1 331.4H1020.8Q1022.9 331.4 1022.9 333.5V369.9Q1022.9 372 1020.8 372H949.1Z" fill="#26a047"/>
<text x="962.9" y="347.9" font-size="13.2" fill="#0a0d0a" class="t" textLength="52.6" lengthAdjust="spacingAndGlyphs">87,658.2</text>
<text x="962.9" y="364.4" font-size="13.2" fill="#0a0d0a" class="t" textLength="34.4" lengthAdjust="spacingAndGlyphs">58:26</text>
<text x="-9.2" y="658.1" font-size="13.5" fill="#c8c8c8" class="t" textLength="35" lengthAdjust="spacingAndGlyphs">12/20</text>
<text x="82.09" y="658.1" font-size="13.5" fill="#c8c8c8" class="t" textLength="33.75" lengthAdjust="spacingAndGlyphs">12:00</text>
<text x="172.14" y="658.1" font-size="13.5" fill="#c8c8c8" class="t" textLength="35" lengthAdjust="spacingAndGlyphs">12/21</text>
<text x="263.44" y="658.1" font-size="13.5" fill="#c8c8c8" class="t" textLength="33.75" lengthAdjust="spacingAndGlyphs">12:00</text>
<text x="353.48" y="658.1" font-size="13.5" fill="#c8c8c8" class="t" textLength="35" lengthAdjust="spacingAndGlyphs">12/22</text>
<text x="444.78" y="658.1" font-size="13.5" fill="#c8c8c8" class="t" textLength="33.75" lengthAdjust="spacingAndGlyphs">12:00</text>
<text x="534.82" y="658.1" font-size="13.5" fill="#c8c8c8" class="t" textLength="35" lengthAdjust="spacingAndGlyphs">12/23</text>
<text x="626.12" y="658.1" font-size="13.5" fill="#c8c8c8" class="t" textLength="33.75" lengthAdjust="spacingAndGlyphs">12:00</text>
<text x="716.16" y="658.1" font-size="13.5" fill="#c8c8c8" class="t" textLength="35" lengthAdjust="spacingAndGlyphs">12/24</text>
<text x="807.45" y="658.1" font-size="13.5" fill="#c8c8c8" class="t" textLength="33.75" lengthAdjust="spacingAndGlyphs">12:00</text>
<text x="897.5" y="658.1" font-size="13.5" fill="#c8c8c8" class="t" textLength="35" lengthAdjust="spacingAndGlyphs">12/25</text>
<text x="453" y="92.5" font-size="12.5" fill="#cfcfcf" class="t" textLength="52.6" lengthAdjust="spacingAndGlyphs">90,598.0</text>
<text x="650" y="441.3" font-size="12.5" fill="#cfcfcf" class="t" textLength="51.9" lengthAdjust="spacingAndGlyphs">86,578.9</text>
<path d="M511 89.5h7.5M515.5 86.5l3 3-3 3" stroke="#cfcfcf" stroke-width="1.1" fill="none"/>
<path d="M708 437.5h7.5M712.5 434.5l3 3-3 3" stroke="#cfcfcf" stroke-width="1.1" fill="none"/>
<path d="M348.3 19.6L352.05 23.3L355.8 19.6" stroke="#cfcfcf" stroke-width="1.3" fill="none" stroke-linecap="round" stroke-linejoin="round"/>
<path d="M892 19.6L895.8 23.4L899.6 19.6" stroke="#8a8a8a" stroke-width="1.3" fill="none" stroke-linecap="round" stroke-linejoin="round"/>
<path d="M968.5 19.6L972.55 23.5L976.6 19.6" stroke="#8a8a8a" stroke-width="1.3" fill="none" stroke-linecap="round" stroke-linejoin="round"/>
<path d="M12 63.6L16.45 67.2L20.9 63.6" stroke="#e0e0e0" stroke-width="1.5" fill="none" stroke-linecap="round" stroke-linejoin="round"/>
<path d="M12 490.5L16.45 494.1L20.9 490.5" stroke="#e0e0e0" stroke-width="1.5" fill="none" stroke-linecap="round" stroke-linejoin="round"/>
<g stroke="#d6d6d6" stroke-width="1.3" fill="none" stroke-linejoin="round"><path d="M378.6 14.2L381 15.6V26.2L378.6 27.6L376.2 26.2V15.6Z"/><path d="M378.6 12.4V14.2M378.6 27.6V29.4"/><path d="M386.4 17.2L388.8 18.4V24.6L386.4 25.8L384 24.6V18.4Z"/><path d="M386.4 15.6V17.2M386.4 25.8V27.4"/></g>
<rect x="403" y="15" width="1" height="12.6" fill="#3a3a3a"/>
<rect x="564.2" y="15" width="1" height="12.6" fill="#3a3a3a"/>
<g stroke="#d6d6d6" stroke-width="1.3" fill="none" stroke-linecap="round"><path d="M419 20.7L424.5 15.6L427.5 18.8L432 14"/><path d="M419.5 24.5V28M425.3 22V28M431.3 19.2V28"/></g>
<g stroke="#d6d6d6" stroke-width="1.3" fill="none"><path d="M447.2 15H457.2M447.2 21H457.2M447.2 27H457.2M460.3 15H462.3M460.3 21H462.3M460.3 27H462.3"/></g>
<g stroke="#d6d6d6" stroke-width="1.3" fill="none" stroke-linecap="round"><path d="M477.6 20.5V14.8Q477.6 13.8 478.6 13.8H489.6Q490.8 13.8 490.8 15V26.6Q490.8 27.6 489.8 27.6H484"/><path d="M485.8 18.6Q484.6 17.4 483.2 18.4Q482.5 19.2 482.2 21.5L481.3 26.4Q480.8 28 479.2 27.4"/><path d="M480.4 21.8H484.4"/></g>
<g stroke="#d6d6d6" stroke-width="1.3" fill="none" stroke-linecap="round"><path d="M507.6 21V15.2Q507.6 14.4 508.4 14.4H519.2Q520.2 14.4 520.2 15.4V26.6Q520.2 27.6 519.2 27.6H514.8"/><path d="M507.6 17.8H520.2M511.2 13.2V15.4M516.2 13.2V15.4"/><path d="M507 24.2H513.6M511.2 21.8L513.6 24.2L511.2 26.6"/></g>
<g stroke="#d6d6d6" stroke-width="1.3" fill="none" stroke-linejoin="round"><path d="M540.95 15.09L542.14 14.52L542.39 12.76L544.41 12.76L544.66 14.52L545.85 15.09L547.09 15.53L548.51 14.46L549.94 15.89L548.87 17.31L549.31 18.55L549.88 19.74L551.64 19.99L551.64 22.01L549.88 22.26L549.31 23.45L548.87 24.69L549.94 26.11L548.51 27.54L547.09 26.47L545.85 26.91L544.66 27.48L544.41 29.24L542.39 29.24L542.14 27.48L540.95 26.91L539.71 26.47L538.29 27.54L536.86 26.11L537.93 24.69L537.49 23.45L536.92 22.26L535.16 22.01L535.16 19.99L536.92 19.74L537.49 18.55L537.93 17.31L536.86 15.89L538.29 14.46L539.71 15.53Z"/><circle cx="543.4" cy="21" r="2.3"/></g>
<g stroke="#4d4d4d" stroke-width="1.3" fill="none" stroke-linecap="round" stroke-linejoin="round"><path d="M579.5 18H589Q593 18 593 22.2Q593 26.4 589 26.4H584.3"/><path d="M582.6 15L579.5 18L582.6 21"/><path d="M622.6 18H613.1Q609.1 18 609.1 22.2Q609.1 26.4 613.1 26.4H617.8"/><path d="M619.5 15L622.6 18L619.5 21"/></g>
<g stroke="#e6e6e6" stroke-width="1.4" fill="none" stroke-linecap="round"><rect x="999.8" y="14.4" width="13.5" height="13.4" rx="1.6"/><path d="M1010.4 17.1L1007.3 20.2M1007.1 17.1H1010.4V20.4M1002.6 25.1L1005.7 22M1002.6 21.8V25.1H1005.9"/></g>
<g stroke="#d6d6d6" fill="none" stroke-linecap="round" stroke-linejoin="round"><path d="M982.6 648.6H994.4" stroke-width="1.3"/><path d="M982.6 661.8H994.4" stroke-width="1.6"/><path d="M988.4 651V659.8M986.2 652.9L988.4 650.7L990.6 652.9M986.2 658L988.4 660.2L990.6 658" stroke-width="1.3"/></g>
<rect x="-6" y="571.4" width="15.8" height="34.2" rx="6" fill="#262626"/>
<path d="M3.2 586.4L5.8 589.2L3.2 592" stroke="#d9d9d9" stroke-width="1.3" fill="none" stroke-linecap="round" stroke-linejoin="round"/>
</svg>
</body></html>
